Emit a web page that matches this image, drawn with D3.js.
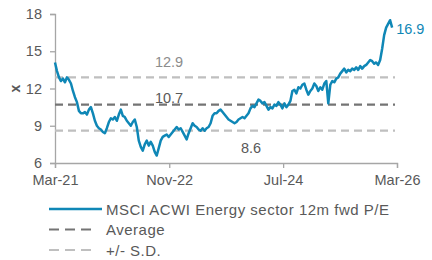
<!DOCTYPE html>
<html>
<head>
<meta charset="utf-8">
<script src="https://cdn.jsdelivr.net/npm/d3@7"></script>
<style>
  body { margin: 0; background: #fff; }
  svg text { font-family: "Liberation Sans", Arial, sans-serif; }
</style>
</head>
<body>
<svg id="chart" width="432" height="260"></svg>
<script>
// first and last observation dates, points are evenly spaced between them
const startDate = new Date(2021, 2, 1)
const endDate = new Date(2026, 1, 3)

// MSCI ACWI Energy 12m fwd P/E
const peValues = [
  14.1, 13.4, 12.9, 12.6, 12.8, 12.5, 12.9, 12.7, 12.4, 11.8,
  11.3, 10.9, 10.2, 10.0, 10.0, 10.1, 9.9, 10.3, 10.5, 10.0,
  9.4, 9.0, 8.8, 8.7, 8.5, 8.4, 8.8, 9.3, 9.6, 9.5,
  9.7, 9.4, 9.9, 10.3, 9.8, 9.7, 9.4, 9.2, 9.0, 9.3,
  9.5, 8.9, 7.8, 7.3, 7.0, 7.5, 7.8, 7.4, 7.7, 7.4,
  6.9, 6.6, 7.2, 7.8, 8.1, 8.2, 8.3, 8.1, 8.3, 8.5,
  8.7, 8.9, 8.7, 8.8, 8.5, 8.2, 7.9, 8.4, 8.8, 9.2,
  9.0, 8.9, 8.7, 8.6, 8.8, 8.6, 8.8, 8.9, 9.2, 9.8,
  10.0, 10.0, 10.2, 10.3, 10.1, 9.9, 9.7, 9.5, 9.4, 9.3,
  9.2, 9.3, 9.5, 9.6, 9.7, 9.6, 9.8, 10.0, 10.4, 10.6,
  10.5, 10.8, 11.1, 11.0, 10.8, 10.9, 10.6, 10.3, 10.5, 10.4,
  10.7, 10.6, 10.9, 10.7, 10.4, 10.8, 10.5, 10.7, 11.0, 11.8,
  11.9, 11.6, 12.1, 12.0, 12.3, 12.4, 11.9, 11.5, 11.8, 12.0,
  12.4, 12.2, 11.8, 12.1, 11.9, 12.4, 12.6, 10.8, 12.3, 12.6,
  12.5, 12.8, 12.9, 13.2, 13.4, 13.6, 13.3, 13.5, 13.4, 13.6,
  13.5, 13.7, 13.5, 13.8, 13.6, 13.8, 13.9, 14.1, 14.3, 14.2,
  14.0, 14.1, 13.9, 14.3, 15.2, 16.3, 16.9, 17.2, 17.5, 16.9
]

const averageValue = 10.7
const sdBands = [12.9, 8.6]

const xTicks = [new Date(2021, 2, 1), new Date(2022, 10, 1), new Date(2024, 6, 1), new Date(2026, 2, 1)]
const yTicks = [6, 9, 12, 15, 18]

const legendItems = [
  { label: "MSCI ACWI Energy sector 12m fwd P/E", kind: "series" },
  { label: "Average", kind: "avg" },
  { label: "+/- S.D.", kind: "sd" }
]

const blue = "#0f87b6"
const avgGrey = "#747474"
const sdGrey = "#bfbfbf"
const textGrey = "#595959"
const axisGrey = "#a6a6a6"

const svg = d3.select("#chart")

const span = endDate - startDate
const series = peValues.map((v, i) => ({
  date: new Date(+startDate + span * i / (peValues.length - 1)),
  value: v
}))

const x = d3.scaleTime()
  .domain([xTicks[0], xTicks[xTicks.length - 1]])
  .range([55, 397])
const y = d3.scaleLinear()
  .domain([6, 18])
  .range([163, 14])

// axes
const xAxis = svg.append("g")
  .attr("transform", `translate(0,${y(6)})`)
  .call(d3.axisBottom(x).tickValues(xTicks).tickFormat(d3.timeFormat("%b-%y")).tickSize(5).tickPadding(7))
const yAxis = svg.append("g")
  .attr("transform", `translate(${x(xTicks[0])},0)`)
  .call(d3.axisLeft(y).tickValues(yTicks).tickSize(5).tickPadding(8))

;[xAxis, yAxis].forEach(g => {
  g.select(".domain").attr("stroke", axisGrey).attr("stroke-width", 1.3)
  g.selectAll(".tick line").attr("stroke", axisGrey).attr("stroke-width", 1.3)
  g.selectAll(".tick text")
    .attr("fill", textGrey)
    .style("font-size", "14.5px")
    .style("font-family", "'Liberation Sans', Arial, sans-serif")
})

svg.append("text")
  .attr("transform", `translate(15,${y(12)}) rotate(-90)`)
  .attr("text-anchor", "middle")
  .attr("dominant-baseline", "central")
  .attr("fill", textGrey)
  .style("font-size", "14px")
  .style("font-weight", "bold")
  .text("x")

// reference lines
const xEnd = x(xTicks[xTicks.length - 1]) - 2
sdBands.forEach(v => {
  svg.append("line")
    .attr("x1", x(xTicks[0])).attr("x2", xEnd)
    .attr("y1", y(v)).attr("y2", y(v))
    .attr("stroke", sdGrey).attr("stroke-width", 2.2)
    .attr("stroke-dasharray", "8,5")
})
svg.append("line")
  .attr("x1", x(xTicks[0])).attr("x2", xEnd)
  .attr("y1", y(averageValue)).attr("y2", y(averageValue))
  .attr("stroke", avgGrey).attr("stroke-width", 2.2)
  .attr("stroke-dasharray", "8,5")

// the series
svg.append("path")
  .datum(series)
  .attr("fill", "none")
  .attr("stroke", blue)
  .attr("stroke-width", 2.5)
  .attr("stroke-linejoin", "round")
  .attr("d", d3.line().x(d => x(d.date)).y(d => y(d.value)))

// value labels
const labelStyle = sel => sel.style("font-size", "14.5px").attr("dominant-baseline", "central")
svg.append("text").call(labelStyle)
  .attr("x", 169).attr("y", y(sdBands[0]) - 15)
  .attr("text-anchor", "middle").attr("fill", "#8c8c8c")
  .text(sdBands[0].toFixed(1))
svg.append("text").call(labelStyle)
  .attr("x", 169).attr("y", y(averageValue) - 7)
  .attr("text-anchor", "middle").attr("fill", textGrey)
  .text(averageValue.toFixed(1))
svg.append("text").call(labelStyle)
  .attr("x", 251).attr("y", y(sdBands[1]) + 17)
  .attr("text-anchor", "middle").attr("fill", textGrey)
  .text(sdBands[1].toFixed(1))
const last = series[series.length - 1]
svg.append("text").call(labelStyle)
  .attr("x", x(last.date) + 4).attr("y", y(last.value) + 1)
  .attr("fill", blue)
  .text(last.value.toFixed(1))

// legend
const legend = svg.append("g")
legendItems.forEach((item, i) => {
  const ly = 209 + i * 20.5
  const line = legend.append("line")
    .attr("x1", 49).attr("y1", ly).attr("y2", ly)
    .attr("stroke-width", 2.2)
  if (item.kind === "series") {
    line.attr("x2", 102).attr("stroke", blue).attr("stroke-width", 2.6)
  } else {
    line.attr("x2", 92).attr("stroke-dasharray", "10,6")
      .attr("stroke", item.kind === "avg" ? avgGrey : sdGrey)
  }
  legend.append("text")
    .attr("x", 106).attr("y", ly)
    .attr("dominant-baseline", "central")
    .attr("fill", textGrey)
    .style("font-size", "15px")
    .style("letter-spacing", "0.5px")
    .text(item.label)
})
</script>
</body>
</html>
